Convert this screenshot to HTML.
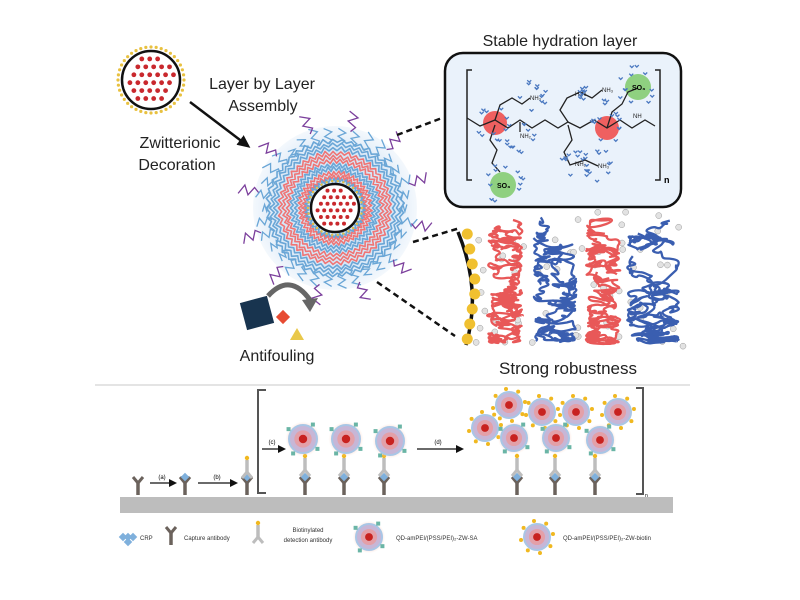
<!DOCTYPE html>
<html><head><meta charset="utf-8">
<style>
html,body{margin:0;padding:0;background:#fff;width:800px;height:600px;overflow:hidden}
svg{display:block}
text{font-family:"Liberation Sans",sans-serif}
</style></head>
<body>
<svg id="s" width="800" height="600" viewBox="0 0 800 600" xmlns="http://www.w3.org/2000/svg">
<defs>
<radialGradient id="glow"><stop offset="0.55" stop-color="#f2a58c" stop-opacity="0.9"/><stop offset="1" stop-color="#fbd9cc" stop-opacity="0"/></radialGradient>
<radialGradient id="bg1"><stop offset="0.7" stop-color="#d6e6f6"/><stop offset="1" stop-color="#e8f1fa" stop-opacity="0.5"/></radialGradient>
<marker id="ah" markerWidth="8" markerHeight="8" refX="6" refY="4" orient="auto" markerUnits="userSpaceOnUse"><path d="M0,0 L8,4 L0,8 z" fill="#111"/></marker>
<marker id="ah2" markerWidth="14" markerHeight="14" refX="10" refY="7" orient="auto" markerUnits="userSpaceOnUse"><path d="M0,1 L13,7 L0,13 z" fill="#111"/></marker>
</defs>

<text x="262" y="89" font-size="16" text-anchor="middle" fill="#222">Layer by Layer</text>
<text x="263" y="111" font-size="16" text-anchor="middle" fill="#222">Assembly</text>
<text x="180" y="148" font-size="16" text-anchor="middle" fill="#222">Zwitterionic</text>
<text x="177" y="170" font-size="16" text-anchor="middle" fill="#222">Decoration</text>
<text x="560" y="46" font-size="16" text-anchor="middle" fill="#222">Stable hydration layer</text>
<text x="568" y="374" font-size="17" text-anchor="middle" fill="#222">Strong robustness</text>
<text x="277" y="361" font-size="16" text-anchor="middle" fill="#222">Antifouling</text>

<line x1="190" y1="102" x2="248" y2="146" stroke="#111" stroke-width="2.5" marker-end="url(#ah2)"/>

<g id="small"></g>
<circle cx="335" cy="208" r="82" fill="url(#bg1)"/>
<g id="big"></g>

<g stroke="#111" stroke-width="2.5" stroke-dasharray="6,4">
<line x1="397" y1="135" x2="442" y2="118"/>
<line x1="413" y1="242" x2="460" y2="228"/>
<line x1="377" y1="282" x2="455" y2="336"/>
</g>

<rect x="445" y="53" width="236" height="154" rx="18" fill="#eaf2fb" stroke="#111" stroke-width="2.5"/>
<path d="M472,70 h-5 v110 h5 M655,70 h5 v110 h-5" fill="none" stroke="#222" stroke-width="1.5"/>
<text x="664" y="183" font-size="9" font-weight="bold">n</text>
<g id="chem"></g>

<path d="M458,232 Q482,290 466,345" fill="none" stroke="#111" stroke-width="3.5"/>
<g id="tang"></g>

<rect x="243" y="299" width="28" height="28" fill="#18344f" transform="rotate(-15 257 313)"/>
<rect x="278" y="312" width="10" height="10" fill="#e74b32" transform="rotate(45 283 317)"/>
<path d="M290,340 L304,340 L297,328 z" fill="#e9c84a"/>
<path d="M268,296 Q290,272 310,300" fill="none" stroke="#666" stroke-width="5"/>
<path d="M302,300 L318,298 L310,312 z" fill="#666"/>

<line x1="95" y1="385" x2="690" y2="385" stroke="#e4e4e4" stroke-width="2"/>

<rect x="120" y="497" width="553" height="16" fill="#bdbdbd"/>
<path d="M266,390 h-8 v103 h8 M636,388 h7 v106 h-7" fill="none" stroke="#555" stroke-width="2"/>
<text x="645" y="497" font-size="5">n</text>
<g stroke="#111" stroke-width="1.2" fill="none">
<line x1="150" y1="483" x2="175" y2="483" marker-end="url(#ah)"/>
<line x1="198" y1="483" x2="236" y2="483" marker-end="url(#ah)"/>
<line x1="262" y1="449" x2="284" y2="449" marker-end="url(#ah)"/>
<line x1="417" y1="449" x2="462" y2="449" marker-end="url(#ah)"/>
</g>
<text x="162" y="479" font-size="6" text-anchor="middle">(a)</text>
<text x="217" y="479" font-size="6" text-anchor="middle">(b)</text>
<text x="272" y="444" font-size="6" text-anchor="middle">(c)</text>
<text x="438" y="444" font-size="6" text-anchor="middle">(d)</text>
<g id="bot"></g>

<g font-size="6" fill="#333">
<text x="140" y="540">CRP</text>
<text x="184" y="540">Capture antibody</text>
<text x="308" y="532" text-anchor="middle">Biotinylated</text>
<text x="308" y="542" text-anchor="middle">detection antibody</text>
<text x="396" y="540">QD-amPEI/(PSS/PEI)₂-ZW-SA</text>
<text x="563" y="540">QD-amPEI/(PSS/PEI)₂-ZW-biotin</text>
</g>
<g id="leg"></g>
</svg>
<script>
var NS="http://www.w3.org/2000/svg";
var seed=7;function r(){seed=(seed*16807)%2147483647;return seed/2147483647;}
function el(p,t,a){var e=document.createElementNS(NS,t);for(var k in a)e.setAttribute(k,a[k]);document.getElementById(p).appendChild(e);return e;}
function dotsCore(g,cx,cy,R,dr,sp){el(g,'circle',{cx:cx,cy:cy,r:R,fill:'#fff',stroke:'#111','stroke-width':2.5});
 var row=0;for(var y=-R;y<=R;y+=dr*sp,row++)for(var x=-R;x<=R;x+=dr*sp){var xx=x+(row%2?dr*sp/2:0);if(xx*xx+y*y<(R-dr-2)*(R-dr-2))el(g,'circle',{cx:cx+xx,cy:cy+y,r:dr,fill:'#c9282d'});}}
for(var i=0;i<40;i++){var a=i/40*6.283;el('small','circle',{cx:151+33*Math.cos(a),cy:80+33*Math.sin(a),r:1.6,fill:'#e8c140'});}
dotsCore('small',151,80,29,2.4,3.3);
function ring(g,cx,cy,R,w,col,n,sw){var d='';for(var k=0;k<n;k++){var a=k/n*6.283;var rr=R+((k%2)?w:-w)*(0.5+0.5*r());d+=(k?'L':'M')+(cx+rr*Math.cos(a)).toFixed(1)+','+(cy+rr*Math.sin(a)).toFixed(1);}el(g,'path',{d:d+'z',fill:'none',stroke:col,'stroke-width':sw,'stroke-linejoin':'round'});}
var cx=335,cy=208;
for(var i=0;i<34;i++){var a=i/34*6.283,L=72+r()*12,d='M'+(cx+64*Math.cos(a))+','+(cy+64*Math.sin(a));for(var s=1;s<=4;s++){var rr=64+s*(L-64)/4,o=(s%2?0.05:-0.05);d+=' L'+(cx+rr*Math.cos(a+o))+','+(cy+rr*Math.sin(a+o));}el('big','path',{d:d,stroke:'#6aa6d6','stroke-width':1.3,fill:'none'});}
for(var i=0;i<12;i++){var a=i/12*6.283+0.2,d='M'+(cx+78*Math.cos(a))+','+(cy+78*Math.sin(a));for(var s=1;s<=4;s++){var rr=78+s*5,o=(s%2?0.05:-0.05);d+=' L'+(cx+rr*Math.cos(a+o))+','+(cy+rr*Math.sin(a+o));}el('big','path',{d:d,stroke:'#7b3f9c','stroke-width':1.3,fill:'none'});}
[[67,'#6aa6d6'],[63,'#6aa6d6'],[59,'#6aa6d6'],[55,'#ef7575'],[51,'#ef7575'],[47,'#ef7575'],[43,'#6aa6d6'],[39,'#6aa6d6'],[35,'#ef7575'],[31,'#ef7575'],[28,'#6aa6d6']].forEach(function(q){ring('big',cx,cy,q[0],2.5,q[1],90,1.6);});
for(var i=0;i<30;i++){var a=i/30*6.283;el('big','circle',{cx:cx+27*Math.cos(a),cy:cy+27*Math.sin(a),r:1.2,fill:'#e8c140'});}
dotsCore('big',cx,cy,24,2,3.3);
function line(g,pts,c,w){el(g,'polyline',{points:pts,fill:'none',stroke:c||'#222','stroke-width':w||1.3});}
function water(cx,cy,R){for(var i=0;i<12;i++){var a=r()*6.283,rr=R*(0.7+0.5*r()),x=cx+rr*Math.cos(a),y=cy+rr*Math.sin(a);line('chem',(x-2)+','+(y-2)+' '+x+','+y+' '+(x+2)+','+(y-2),'#4a78c0',1.3);}}
el('chem','circle',{cx:495,cy:123,r:12,fill:'#ef6060'});
el('chem','circle',{cx:607,cy:128,r:12,fill:'#ef6060'});
el('chem','circle',{cx:503,cy:185,r:13,fill:'#8fd080'});
el('chem','circle',{cx:638,cy:87,r:13,fill:'#8fd080'});
line('chem','467,118 480,126 495,120 508,128 520,120 532,128 545,120 558,128 568,122 580,128 594,120 607,128 620,120 632,128 645,120 655,126');
line('chem','495,120 500,105 512,98 522,104 530,98');
line('chem','495,125 490,140 497,150 492,163 500,172');
line('chem','568,122 560,110 567,98 580,92 592,98 602,90');
line('chem','607,128 612,112 622,104 628,92 638,88');
line('chem','568,125 572,140 564,152 570,165 585,160 598,166');
line('chem','520,122 520,132');
[[530,100,'NH₃'],[520,138,'NH₂'],[602,92,'NH₃'],[575,96,'H₂N'],[598,168,'NH₃'],[575,166,'NH₂'],[633,118,'NH']].forEach(function(t){var e=el('chem','text',{x:t[0],y:t[1],'font-size':6,fill:'#222'});e.textContent=t[2];});
var e=el('chem','text',{x:497,y:188,'font-size':7,'font-weight':'bold'});e.textContent='SO₃';
e=el('chem','text',{x:632,y:90,'font-size':7,'font-weight':'bold'});e.textContent='SO₃';
[[495,123,16],[503,185,18],[638,87,18],[530,98,14],[520,138,14],[595,92,14],[598,166,14],[575,166,12],[607,128,16]].forEach(function(w){water(w[0],w[1],w[2]);});
for(var i=0;i<60;i++){var x=475+r()*208,y=212+r()*135;el('tang','circle',{cx:x,cy:y,r:3,fill:'#e2e2e2',stroke:'#999','stroke-width':0.5});}
for(var i=0;i<8;i++){el('tang','circle',{cx:476-Math.abs(i-3.5)*2.5,cy:234+i*15,r:5.5,fill:'#f0c030'});}
function tangle(x0,x1,col,ys){var pts=[],x=x0+r()*(x1-x0),y=ys;for(var k=0;k<60;k++){x+=(r()-0.5)*24;if(x<x0)x=x0+5;if(x>x1)x=x1-5;y+=(r()-0.4)*8;if(y<216)y=220;if(y>344)y=340;pts.push([x,y]);}
 var d='M'+pts[0][0].toFixed(1)+','+pts[0][1].toFixed(1);for(var k=1;k<pts.length-1;k++){var mx=(pts[k][0]+pts[k+1][0])/2,my=(pts[k][1]+pts[k+1][1])/2;d+=' Q'+pts[k][0].toFixed(1)+','+pts[k][1].toFixed(1)+' '+mx.toFixed(1)+','+my.toFixed(1);}
 el('tang','path',{d:d,fill:'none',stroke:col,'stroke-width':2.3,'stroke-linejoin':'round'});}
function tangles(x0,x1,col){for(var j=0;j<7;j++)tangle(x0,x1,col,216+j*18);}
tangles(487,524,'#e85858');tangles(533,578,'#3a5eb0');tangles(585,621,'#e85858');tangles(625,681,'#3a5eb0');
function capAb(g,x,y){line(g,(x-5)+','+(y-10)+' '+x+','+(y-4)+' '+(x+5)+','+(y-10),'#6b625c',3);line(g,x+','+(y-4)+' '+x+','+(y+8),'#6b625c',3.5);}
function detAb(g,x,y){line(g,(x-5)+','+(y+10)+' '+x+','+(y+4)+' '+(x+5)+','+(y+10),'#bdbdbd',3);line(g,x+','+(y+4)+' '+x+','+(y-8),'#bdbdbd',3.5);el(g,'circle',{cx:x,cy:y-10,r:2.2,fill:'#f0b820'});}
function crp(g,x,y){el(g,'rect',{x:x-3,y:y-3,width:6,height:6,fill:'#7fb0dc',transform:'rotate(45 '+x+' '+y+')'});}
function qd(g,x,y,R,type){if(type=='sa')el(g,'circle',{cx:x,cy:y,r:R*1.25,fill:'url(#glow)'});el(g,'circle',{cx:x,cy:y,r:R,fill:'#c7b6d6',stroke:'#a9c6e6','stroke-width':2});el(g,'circle',{cx:x,cy:y,r:R*0.62,fill:'#e3a0a8'});el(g,'circle',{cx:x,cy:y,r:R*0.3,fill:'#c8221f'});
 for(var i=0;i<(type=='sa'?4:8);i++){var a=i/(type=='sa'?4:8)*6.283+0.6;var px=x+R*1.25*Math.cos(a),py=y+R*1.25*Math.sin(a);if(type=='sa')el(g,'rect',{x:px-2,y:py-2,width:4,height:4,fill:'#6ab5a6'});else el(g,'circle',{cx:px,cy:py,r:2,fill:'#f0b820'});}}
capAb('bot',138,487);capAb('bot',185,487);crp('bot',185,477);capAb('bot',247,487);crp('bot',247,477);detAb('bot',247,468);
[305,344,384].forEach(function(x){capAb('bot',x,487);crp('bot',x,477);detAb('bot',x,466);});
[[303,439],[346,439],[390,441]].forEach(function(p){qd('bot',p[0],p[1],14,'sa');});
[517,555,595].forEach(function(x){capAb('bot',x,487);crp('bot',x,477);detAb('bot',x,466);});
[[509,405],[542,412],[576,412],[618,412],[485,428]].forEach(function(p){qd('bot',p[0],p[1],13,'bio');});
[[514,438],[556,438],[600,440]].forEach(function(p){qd('bot',p[0],p[1],13,'sa');});
crp('leg',128,537);crp('leg',123,537);crp('leg',128,542);crp('leg',133,537);
capAb('leg',171,537);detAb('leg',258,533);
qd('leg',369,537,13,'sa');qd('leg',537,537,13,'bio');
</script>
</body></html>
